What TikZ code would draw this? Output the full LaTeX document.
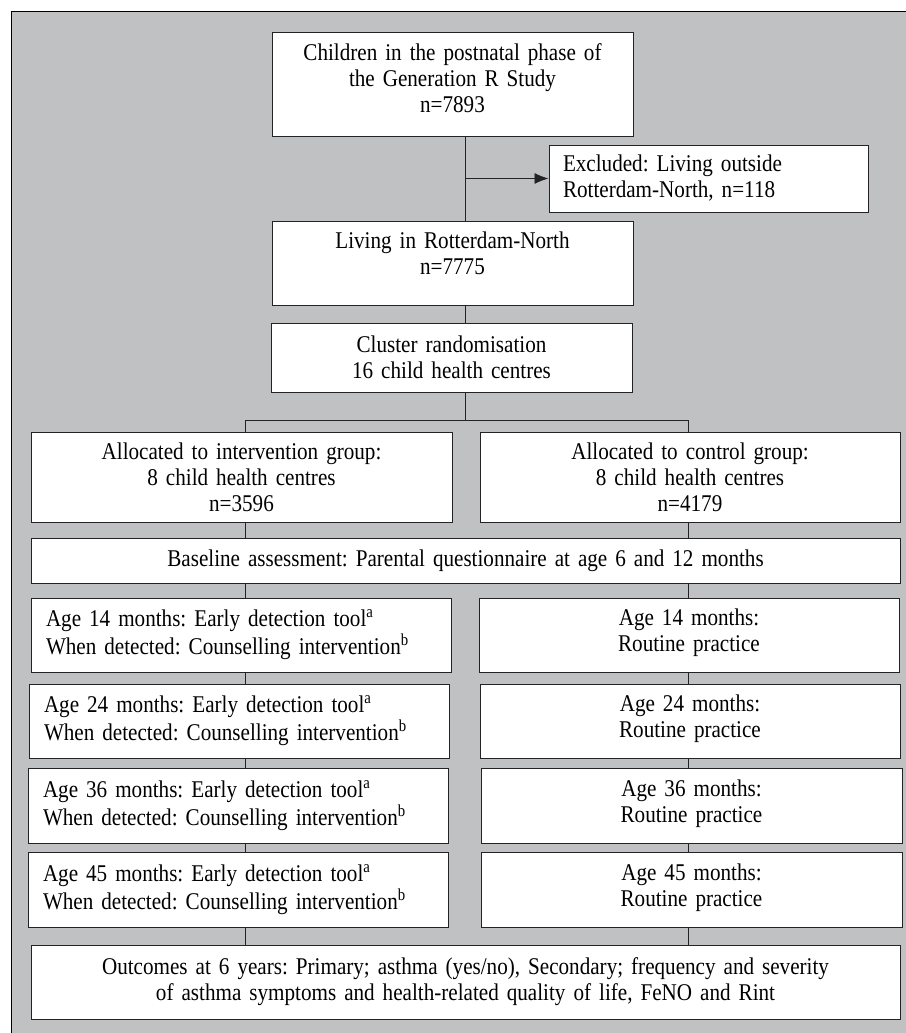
\documentclass[tikz,border=0pt]{standalone}
\usepackage{fontspec}
\setmainfont{Liberation Serif}[FakeStretch=0.88]
\frenchspacing
\usepackage{tikz}
\usetikzlibrary{arrows.meta,shadows}

\definecolor{framegray}{RGB}{192,193,195}
\definecolor{edgegray}{RGB}{35,35,38}

\tikzset{
  box/.style={draw=edgegray, line width=1pt, fill=white, inner sep=0pt, align=center,
    font=\fontsize{24}{26}\selectfont,
    drop shadow={shadow xshift=1.2pt, shadow yshift=-1.2pt, fill=edgegray!85, opacity=1}},
  leftbox/.style={box, align=left, font=\fontsize{24}{28}\selectfont},
  link/.style={draw=edgegray, line width=0.9pt}
}

\begin{document}
\begin{tikzpicture}[x=1pt,y=-1pt]
  \useasboundingbox (0,0) rectangle (905,1033);
  % Grey frame
  \draw[fill=framegray, line width=1pt] (11,12) rectangle (925,1050);
  % Connector tracks
  \coordinate (trunk) at (465,0);
  \coordinate (lbranch) at (245.5,0);
  \coordinate (rbranch) at (688.5,0);
  \coordinate (split) at (0,420);
  % Enrolment
  \node[box, minimum width=361pt, minimum height=103pt, text width=340pt] (children) at (452.5,84.5)
    {Children in the postnatal phase of\\ the Generation R Study\\ n=7893\rule[-12pt]{0pt}{12pt}};
  \node[box, align=left, minimum width=319pt, minimum height=67pt, text width=291pt] (excluded) at (708.5,178.5)
    {Excluded: Living outside\\ Rotterdam-North, n=118};
  \node[box, minimum width=361pt, minimum height=84pt, text width=340pt] (living) at (452.5,263)
    {Living in Rotterdam-North\\ n=7775\rule[-20pt]{0pt}{20pt}};
  \node[box, minimum width=361pt, minimum height=69pt, text width=340pt] (cluster) at (451.5,357.5)
    {Cluster randomisation\\ 16 child health centres};
  % Allocation
  \node[box, minimum width=421pt, minimum height=90pt, text width=400pt] (intervention) at (241.5,477)
    {Allocated to intervention group:\\ 8 child health centres\\ n=3596};
  \node[box, minimum width=420pt, minimum height=90pt, text width=400pt] (control) at (690,477)
    {Allocated to control group:\\ 8 child health centres\\ n=4179};
  \node[box, minimum width=869pt, minimum height=45pt, text width=840pt] (baseline) at (465.5,560.5)
    {Baseline assessment: Parental questionnaire at age 6 and 12 months};
  % Intervention arm
  \node[leftbox, minimum width=420pt, minimum height=74pt, text width=390pt] (int14) at (241,635)
    {Age 14 months: Early detection tool\textsuperscript{a}\\ When detected: Counselling intervention\textsuperscript{b}};
  \node[leftbox, minimum width=420pt, minimum height=74pt, text width=390pt] (int24) at (239,721)
    {Age 24 months: Early detection tool\textsuperscript{a}\\ When detected: Counselling intervention\textsuperscript{b}};
  \node[leftbox, minimum width=420pt, minimum height=75pt, text width=390pt] (int36) at (238,805.5)
    {Age 36 months: Early detection tool\textsuperscript{a}\\ When detected: Counselling intervention\textsuperscript{b}};
  \node[leftbox, minimum width=420pt, minimum height=75pt, text width=390pt] (int45) at (238,889.5)
    {Age 45 months: Early detection tool\textsuperscript{a}\\ When detected: Counselling intervention\textsuperscript{b}};
  % Control arm
  \node[box, minimum width=420pt, minimum height=74pt, text width=400pt] (con14) at (689,635)
    {Age 14 months:\\ Routine practice\rule[-9pt]{0pt}{9pt}};
  \node[box, minimum width=420pt, minimum height=74pt, text width=400pt] (con24) at (690,721)
    {Age 24 months:\\ Routine practice\rule[-9pt]{0pt}{9pt}};
  \node[box, minimum width=421pt, minimum height=75pt, text width=400pt] (con36) at (691.5,805.5)
    {Age 36 months:\\ Routine practice\rule[-9pt]{0pt}{9pt}};
  \node[box, minimum width=421pt, minimum height=75pt, text width=400pt] (con45) at (691.5,889.5)
    {Age 45 months:\\ Routine practice\rule[-9pt]{0pt}{9pt}};
  % Outcomes
  \node[box, minimum width=869pt, minimum height=74pt, text width=840pt] (outcomes) at (465.5,982)
    {Outcomes at 6 years: Primary; asthma (yes/no), Secondary; frequency and severity\\
     of asthma symptoms and health-related quality of life, FeNO and Rint};
  % Connectors
  \draw[link] (children.south -| trunk) -- (living.north -| trunk);
  \draw[link, -{Latex[length=14pt,width=11pt]}] (excluded.west -| trunk) -- (excluded.west);
  \draw[link] (living.south -| trunk) -- (cluster.north -| trunk);
  \draw[link] (cluster.south -| trunk) -- (split -| trunk);
  \draw[link] (intervention.north -| lbranch) -- (split -| lbranch) -- (split -| rbranch) -- (control.north -| rbranch);
  \draw[link] (intervention.south -| lbranch) -- (baseline.north -| lbranch);
  \draw[link] (control.south -| rbranch) -- (baseline.north -| rbranch);
  \draw[link] (baseline.south -| lbranch) -- (int14.north -| lbranch);
  \draw[link] (baseline.south -| rbranch) -- (con14.north -| rbranch);
  \draw[link] (int14.south -| lbranch) -- (int24.north -| lbranch);
  \draw[link] (con14.south -| rbranch) -- (con24.north -| rbranch);
  \draw[link] (int24.south -| lbranch) -- (int36.north -| lbranch);
  \draw[link] (con24.south -| rbranch) -- (con36.north -| rbranch);
  \draw[link] (int36.south -| lbranch) -- (int45.north -| lbranch);
  \draw[link] (con36.south -| rbranch) -- (con45.north -| rbranch);
  \draw[link] (int45.south -| lbranch) -- (outcomes.north -| lbranch);
  \draw[link] (con45.south -| rbranch) -- (outcomes.north -| rbranch);
\end{tikzpicture}
\end{document}
